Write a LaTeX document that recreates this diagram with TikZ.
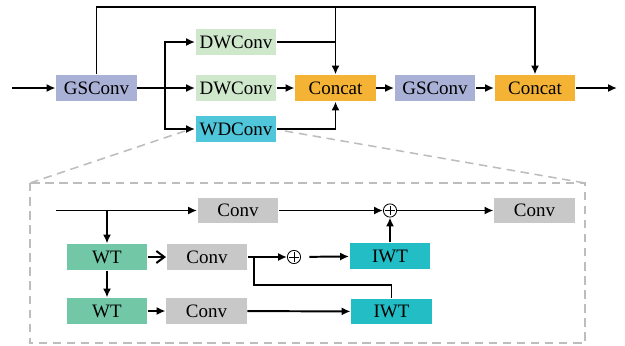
\documentclass[tikz,border=0pt]{standalone}
\usepackage{fontspec}
\setmainfont{Liberation Serif}
\usetikzlibrary{arrows.meta,calc}
\definecolor{gsblue}{HTML}{A9B1D6}
\definecolor{dwgreen}{HTML}{CFE8CC}
\definecolor{wdcyan}{HTML}{4FC6D9}
\definecolor{catorange}{HTML}{F5B335}
\definecolor{wtgreen}{HTML}{72C8A6}
\definecolor{convgray}{HTML}{C8C8C8}
\definecolor{iwtcyan}{HTML}{22BDC5}
\definecolor{framegray}{HTML}{BDBDBD}
\tikzset{box/.style={minimum width=2cm,minimum height=6.3mm,inner sep=0pt,font=\fontsize{13.5}{15}\selectfont},
         gsbox/.style={box,fill=gsblue},
         dwbox/.style={box,fill=dwgreen},
         wdbox/.style={box,fill=wdcyan},
         catbox/.style={box,fill=catorange},
         wtbox/.style={box,fill=wtgreen},
         convbox/.style={box,fill=convgray},
         iwtbox/.style={box,fill=iwtcyan},
         adder/.style={circle,draw,line width=0.6pt,minimum size=3.3mm,inner sep=0pt,
                       path picture={\draw[line width=0.6pt]
                         ($(path picture bounding box.center)+(0,1.15mm)$)--($(path picture bounding box.center)+(0,-1.15mm)$)
                         ($(path picture bounding box.center)+(-1.15mm,0)$)--($(path picture bounding box.center)+(1.15mm,0)$);}},
         zoomline/.style={draw=framegray,line width=1.1pt,dash pattern=on 6pt off 4pt}}

\begin{document}
\begin{tikzpicture}[x=0.025cm,y=-0.025cm,line width=1.4pt,>={Latex[length=2.2mm,width=2mm]}]
        \useasboundingbox(0,0)rectangle(625,345);

        % main row
        \node[gsbox](gs1)at(96.5,88){GSConv};
        \node[dwbox](dw1)at(236,42){DWConv};
        \node[dwbox](dw2)at(236,88){DWConv};
        \node[wdbox](wd)at(236,129){WDConv};
        \node[catbox](cat1)at(335.5,88){Concat};
        \node[gsbox](gs2)at(435,88){GSConv};
        \node[catbox](cat2)at(535,88){Concat};
        \coordinate(in)at(12,88);
        \coordinate(out)at(617,88);
        \coordinate(top)at(96.5,7);
        \coordinate(br)at(165,88);

        \draw[->](in)--(gs1);
        \draw[->](gs1.north)--(top)-|(cat2.north);
        \draw[->](top-|cat1)--(cat1.north);
        \draw(gs1.east)--(br);
        \draw[->](br)|-(dw1);
        \draw[->](br)--(dw2);
        \draw[->](br)|-(wd);
        \draw(dw1.east)--(dw1.east-|cat1);
        \draw[->](dw2)--(cat1);
        \draw[->](wd)-|(cat1.south);
        \draw[->](cat1)--(gs2);
        \draw[->](gs2)--(cat2);
        \draw[->](cat2)--(out);

        % zoomed WDConv
        \coordinate(fl)at(30,183);
        \coordinate(fr)at(585,183);
        \draw[zoomline](fl)rectangle(585,343);
        \draw[zoomline]($(wd.west)+(-10,2)$)--(fl);
        \draw[zoomline]($(wd.east)+(8,2)$)--(fr);

        \node[convbox](conv1)at(238,210.5){Conv};
        \node[wtbox](wt1)at(107,257){WT};
        \node[convbox](conv2)at(207,257){Conv};
        \node[wtbox](wt2)at(107,311){WT};
        \node[convbox](conv3)at(206.5,311){Conv};
        \node[iwtbox](iwt1)at(390,256){IWT};
        \node[iwtbox](iwt2)at(391.5,311.5){IWT};
        \node[convbox](conv4)at(534.5,210.5){Conv};
        \node[adder](add1)at(390,210.5){};
        \node[adder](add2)at(294,257){};
        \coordinate(src)at(56,210.5);
        \coordinate(j2)at(254,257);
        \coordinate(low)at(254,285);

        \draw[->](src)--(conv1);
        \draw[->](src-|wt1)--(wt1);
        \draw[-{Straight Barb[length=2mm,width=3mm]}](wt1)--(conv2);
        \draw[->](wt1)--(wt2);
        \draw[->](wt2)--(conv3);
        \draw[->](conv2)--(add2);
        \draw(j2)--(low)-|(iwt2.north);
        \draw[->,shorten <=6pt](add2)--(iwt1);
        \draw[->](iwt1)--(add1);
        \draw[->](conv1)--(add1);
        \draw[->](add1)--(conv4);
        \draw[->](conv3)--(iwt2);
    \end{tikzpicture}
\end{document}
